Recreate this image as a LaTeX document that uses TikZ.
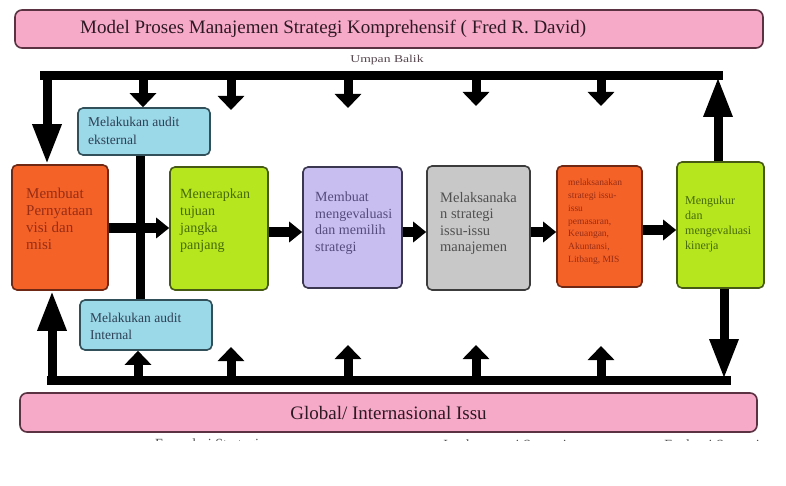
\documentclass[tikz,border=0pt]{standalone}
\usepackage{fontspec}
\usepackage{graphicx}
\setmainfont{Liberation Serif}
\usetikzlibrary{arrows.meta}
\definecolor{pinkfill}{RGB}{247,170,200}
\definecolor{pinkline}{RGB}{90,50,65}
\definecolor{orangefill}{RGB}{245,98,40}
\definecolor{orangeline}{RGB}{110,40,20}
\definecolor{orangetext}{RGB}{150,45,20}
\definecolor{greenfill}{RGB}{182,230,30}
\definecolor{greenline}{RGB}{70,90,20}
\definecolor{greentext}{RGB}{70,105,10}
\definecolor{lavfill}{RGB}{200,190,240}
\definecolor{lavline}{RGB}{60,55,80}
\definecolor{lavtext}{RGB}{85,75,125}
\definecolor{grayfill}{RGB}{200,200,200}
\definecolor{grayline}{RGB}{60,60,60}
\definecolor{graytext}{RGB}{80,80,80}
\definecolor{bluefill}{RGB}{155,216,232}
\definecolor{blueline}{RGB}{50,80,90}
\definecolor{bluetext}{RGB}{45,65,85}
\definecolor{titletext}{RGB}{45,25,35}
\tikzset{
  box/.style={rounded corners=5pt, line width=1.6pt, inner sep=0pt},
  boxtext/.style={anchor=north west, inner sep=0pt, align=left},
  bar/.style={line width=9pt, draw=black},
  bighead/.style={-{Triangle[width=27pt,length=40pt]}},
  shorthead/.style={-{Triangle[width=26pt,length=14pt]}},
  hhead/.style={-{Triangle[width=20pt,length=13pt]}},
}
\begin{document}
\begin{tikzpicture}[x=1pt,y=-1pt]
\fill[white] (0,0) rectangle (786,486);
\useasboundingbox (0,0) rectangle (786,486);

% title and bottom band
\node[box, fill=pinkfill, draw=pinkline, minimum width=748pt, minimum height=38pt, rounded corners=7pt] (title) at (389,29) {};
\node[text=titletext, font=\fontsize{19}{21}\selectfont, anchor=base west, inner sep=0pt] (titletxt) at (80,34) {Model Proses Manajemen Strategi Komprehensif ( Fred R. David)};
\node[text=titletext!80, font=\fontsize{10.5}{12}\selectfont] (umpan) at (387,60) {\scalebox{1.3}[1]{Umpan Balik}};

\node[box, fill=pinkfill, draw=pinkline, minimum width=737pt, minimum height=39pt, rounded corners=7pt, font=\fontsize{19}{21}\selectfont, text=titletext, align=center] (global) at (388.5,412.5) {Global/ Internasional Issu};

% audit boxes
\node[box, fill=bluefill, draw=blueline, minimum width=132pt, minimum height=47pt] (ext) at (144,131.5) {};
\node[boxtext, text=bluetext, font=\fontsize{13.5}{18}\selectfont] (exttxt) at (88,117) {Melakukan audit\\ eksternal};
\node[box, fill=bluefill, draw=blueline, minimum width=132pt, minimum height=50pt] (int) at (146,325) {};
\node[boxtext, text=bluetext, font=\fontsize{13.5}{17}\selectfont] (inttxt) at (90,313) {Melakukan audit\\ Internal};

% main row
\node[box, fill=orangefill, draw=orangeline, minimum width=96pt, minimum height=125pt] (visi) at (60,227.5) {};
\node[boxtext, text=orangetext, font=\fontsize{15}{17}\selectfont] (visitxt) at (26,188) {Membuat\\ Pernyataan\\ visi dan\\ misi};

\node[box, fill=greenfill, draw=greenline, minimum width=98pt, minimum height=123pt] (tujuan) at (219,228.5) {};
\node[boxtext, text=greentext, font=\fontsize{14}{17}\selectfont] (tujuantxt) at (180,189) {Menerapkan\\ tujuan\\ jangka\\ panjang};

\node[box, fill=lavfill, draw=lavline, minimum width=99pt, minimum height=121pt] (memilih) at (352.5,227.5) {};
\node[boxtext, text=lavtext, font=\fontsize{14}{16.5}\selectfont] (memilihtxt) at (315,192) {Membuat\\ mengevaluasi\\ dan memilih\\ strategi};

\node[box, fill=grayfill, draw=grayline, minimum width=103pt, minimum height=124pt] (laksana) at (478.5,228) {};
\node[boxtext, text=graytext, font=\fontsize{14.5}{16.5}\selectfont] (laksanatxt) at (440,192) {Melaksanaka\\ n strategi\\ issu-issu\\ manajemen};

\node[box, fill=orangefill, draw=orangeline, minimum width=85pt, minimum height=121pt] (fungsi) at (599.5,226.5) {};
\node[boxtext, text=orangetext, font=\fontsize{9.5}{12.8}\selectfont] (fungsitxt) at (568,179) {melaksanakan\\ strategi issu-\\ issu\\ pemasaran,\\ Keuangan,\\ Akuntansi,\\ Litbang, MIS};

\node[box, fill=greenfill, draw=greenline, minimum width=87pt, minimum height=126pt] (kinerja) at (720.5,225) {};
\node[boxtext, text=greentext, font=\fontsize{12}{15}\selectfont] (kinerjatxt) at (685,196) {Mengukur\\ dan\\ mengevaluasi\\ kinerja};

% frame coordinates
\coordinate (tl) at (40,76);
\coordinate (tr) at (723,76);
\coordinate (bl) at (47,380);
\coordinate (br) at (731,380);

% top feedback bar
\draw[bar] (tl) -- (tr);
\draw[bar, bighead] (47,72) -- (visi.north -| 47,0);
\draw[bar, bighead] (kinerja.north -| 718,0) -- (718,77);
\draw[bar, shorthead] (143,78) -- (ext.north -| 143,0);
\coordinate (d2) at (231,110);
\coordinate (d3) at (348,108);
\coordinate (d4) at (476,106);
\coordinate (d5) at (601,106);
\draw[bar, shorthead] (231,78) -- (d2);
\draw[bar, shorthead] (348,78) -- (d3);
\draw[bar, shorthead] (476,78) -- (d4);
\draw[bar, shorthead] (601,78) -- (d5);

% bottom bar
\draw[bar] (bl) -- (br);
\draw[bar, bighead] (52,384) -- (visi.south -| 52,0);
\draw[bar, bighead] (kinerja.south -| 724,0) -- (724,379);
\draw[bar, shorthead] (138,378) -- (int.south -| 138,0);
\coordinate (u2) at (231,347);
\coordinate (u3) at (348,345);
\coordinate (u4) at (476,345);
\coordinate (u5) at (601,346);
\draw[bar, shorthead] (231,378) -- (u2);
\draw[bar, shorthead] (348,378) -- (u3);
\draw[bar, shorthead] (476,378) -- (u4);
\draw[bar, shorthead] (601,378) -- (u5);

% audit connector
\draw[bar] (ext.south -| 140,0) -- (int.north -| 140,0);

% horizontal flow
\draw[bar, hhead] (visi.east |- 0,228) -- (tujuan.west |- 0,228);
\draw[bar, hhead] (tujuan.east |- 0,232) -- (memilih.west |- 0,232);
\draw[bar, hhead] (memilih.east |- 0,232) -- (laksana.west |- 0,232);
\draw[bar, hhead] (laksana.east |- 0,232) -- (fungsi.west |- 0,232);
\draw[bar, hhead] (fungsi.east |- 0,230) -- (kinerja.west |- 0,230);

% clipped captions below the band
\begin{scope}
\clip (0,433) rectangle (786,440.5);
\node[text=graytext, font=\fontsize{14}{16}\selectfont, anchor=north] (formulasi) at (207,435) {Formulasi Strategi};
\node[text=graytext, font=\fontsize{14}{16}\selectfont, anchor=north] (implementasi) at (505,436) {Implementasi Strategi};
\node[text=graytext, font=\fontsize{14}{16}\selectfont, anchor=north] (evaluasi) at (712,436) {Evaluasi Strategi};
\end{scope}
\end{tikzpicture}
\end{document}
